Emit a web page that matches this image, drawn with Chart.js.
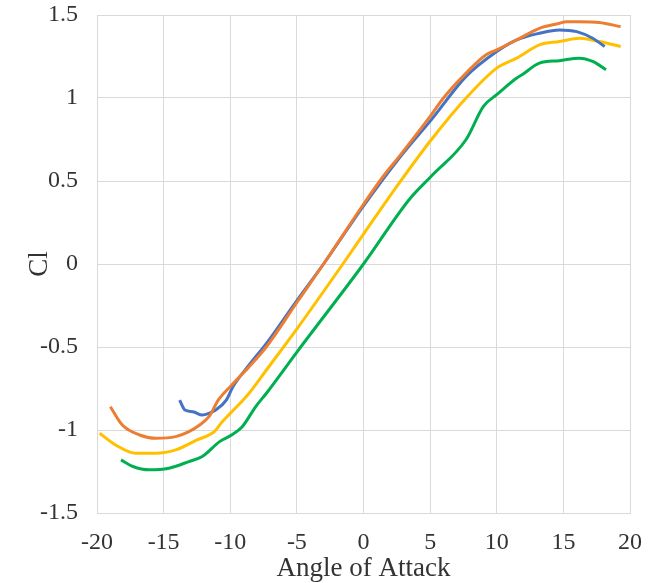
<!DOCTYPE html>
<html>
<head>
<meta charset="utf-8">
<title>Cl vs Angle of Attack</title>
<script src="https://cdn.jsdelivr.net/npm/chart.js"></script>
<style>
    html, body { margin: 0; padding: 0; background: #ffffff; }
    #wrap { width: 662px; height: 583px; position: relative; }
</style>
</head>
<body>
<div id="wrap"><canvas id="cl-chart"></canvas></div>
<script>
// ===== DATA =====
const xTicks = [-20, -15, -10, -5, 0, 5, 10, 15, 20];
const yTicks = [-1.5, -1, -0.5, 0, 0.5, 1, 1.5];

const orangeAoa = [-19.0, -18.1, -16.8, -15.6, -14.1, -13.1, -12.3, -11.6, -10.9, -9.9, -8.6, -7.3, -4.9, -3.0, 0, 1.5, 2.7, 5.1, 6.0, 7.7, 9.2, 10.0, 11.5, 13.2, 14.7, 15.2, 16.2, 17.7, 19.3];
const orangeCl  = [-0.86, -0.97, -1.03, -1.05, -1.04, -1.01, -0.97, -0.92, -0.82, -0.73, -0.62, -0.50, -0.22, 0.0, 0.36, 0.53, 0.65, 0.90, 1.0, 1.15, 1.26, 1.29, 1.35, 1.42, 1.45, 1.46, 1.46, 1.455, 1.43];

const blueAoa = [-13.8, -13.4, -12.8, -12.1, -11.6, -11.1, -10.3, -9.8, -8.6, -7.3, -5.0, -3.0, 0, 2.7, 5.1, 7.7, 10.0, 11.5, 13.2, 14.7, 16.0, 17.2, 18.1];
const blueCl  = [-0.82, -0.88, -0.89, -0.91, -0.90, -0.88, -0.82, -0.74, -0.61, -0.48, -0.22, 0.0, 0.35, 0.64, 0.87, 1.13, 1.28, 1.35, 1.39, 1.41, 1.40, 1.36, 1.31];

const yellowAoa = [-19.8, -18.6, -17.1, -15.6, -14.1, -12.5, -11.2, -10.6, -10.0, -8.6, -7.3, -4.9, -1.55, 0, 2.7, 5.1, 7.7, 10.0, 11.5, 13.2, 14.7, 16.2, 17.7, 19.3];
const yellowCl  = [-1.02, -1.09, -1.14, -1.14, -1.12, -1.06, -1.01, -0.95, -0.90, -0.78, -0.64, -0.38, 0.0, 0.18, 0.49, 0.75, 1.0, 1.18, 1.24, 1.32, 1.34, 1.36, 1.34, 1.31];

const greenAoa = [-18.2, -17.3, -16.1, -14.6, -13.1, -12.1, -10.8, -9.9, -9.1, -8.1, -7.3, -4.9, 0, 3.45, 5.1, 7.7, 9.0, 10.0, 11.5, 11.9, 13.2, 14.7, 16.2, 17.2, 18.2];
const greenCl  = [-1.18, -1.22, -1.24, -1.23, -1.19, -1.16, -1.07, -1.03, -0.98, -0.86, -0.78, -0.52, 0.0, 0.39, 0.53, 0.75, 0.95, 1.02, 1.12, 1.14, 1.21, 1.225, 1.24, 1.22, 1.17];

// ===== HELPERS =====
const toPoints = (xs, ys) => xs.map((x, i) => ({ x: x, y: ys[i] }));

const serif = "'Liberation Serif', 'Times New Roman', serif";
const textColor = '#333333';
const gridColor = '#d9d9d9';

function lineSet(label, xs, ys, color) {
    return {
        label: label,
        data: toPoints(xs, ys),
        showLine: true,
        borderColor: color,
        backgroundColor: color,
        borderWidth: 3,
        pointRadius: 0,
        cubicInterpolationMode: 'monotone',
        fill: false
    };
}

// first dataset is painted last, so orange sits on top of blue
const datasets = [
    lineSet('Orange', orangeAoa, orangeCl, '#ed7d31'),
    lineSet('Blue', blueAoa, blueCl, '#4472c4'),
    lineSet('Yellow', yellowAoa, yellowCl, '#ffc000'),
    lineSet('Green', greenAoa, greenCl, '#00b050')
];

const canvas = document.getElementById('cl-chart');
const ctx = canvas.getContext('2d');

new Chart(ctx, {
    type: 'scatter',
    data: { datasets: datasets },
    options: {
        responsive: true,
        maintainAspectRatio: false,
        animation: false,
        layout: {
            padding: { left: 26, right: 32, top: 15, bottom: 1 }
        },
        plugins: {
            legend: { display: false },
            tooltip: { enabled: false }
        },
        scales: {
            x: {
                type: 'linear',
                min: -20,
                max: 20,
                afterBuildTicks: (scale) => {
                    scale.ticks = xTicks.map(v => ({ value: v }));
                },
                afterFit: (scale) => {
                    scale.height = 69;
                    scale.paddingLeft = 0;
                    scale.paddingRight = 0;
                },
                grid: { color: gridColor, lineWidth: 1, drawTicks: false },
                border: { color: gridColor, width: 1 },
                ticks: {
                    color: textColor,
                    padding: 18,
                    maxRotation: 0,
                    callback: (value) => String(value),
                    font: { family: serif, size: 24, lineHeight: 1 }
                },
                title: {
                    display: true,
                    text: 'Angle of Attack',
                    color: textColor,
                    padding: 0,
                    font: { family: serif, size: 27, lineHeight: 1 }
                }
            },
            y: {
                type: 'linear',
                min: -1.5,
                max: 1.5,
                afterBuildTicks: (scale) => {
                    scale.ticks = yTicks.map(v => ({ value: v }));
                },
                afterFit: (scale) => {
                    scale.width = 71;
                    scale.paddingTop = 0;
                    scale.paddingBottom = 0;
                },
                grid: { color: gridColor, lineWidth: 1, drawTicks: false },
                border: { color: gridColor, width: 1 },
                ticks: {
                    color: textColor,
                    padding: 19,
                    callback: (value) => String(value),
                    font: { family: serif, size: 24, lineHeight: 1 }
                },
                title: {
                    display: true,
                    text: 'Cl',
                    color: textColor,
                    padding: 0,
                    font: { family: serif, size: 27, lineHeight: 1 }
                }
            }
        }
    }
});
</script>
</body>
</html>
